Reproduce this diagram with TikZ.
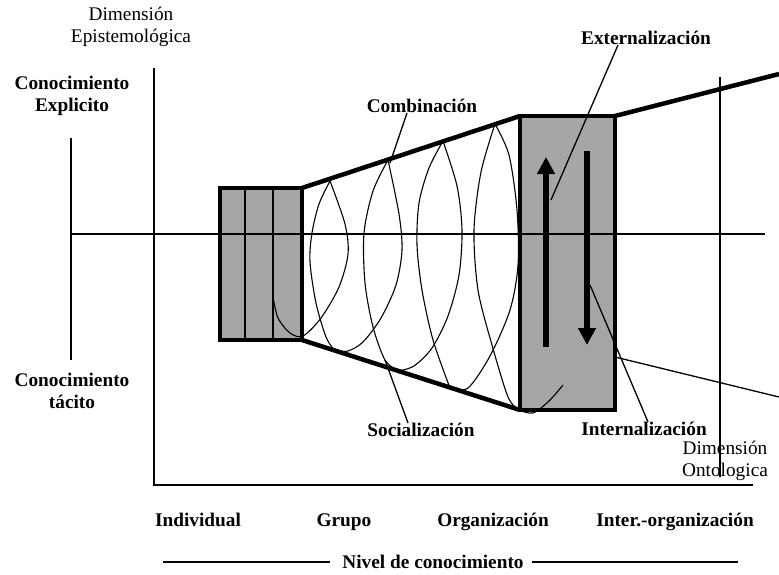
\documentclass[tikz,border=0pt]{standalone}
\usepackage{fontspec}
\setmainfont{Liberation Serif}
\usetikzlibrary{arrows.meta}

\begin{document}
\begin{tikzpicture}[x=1pt,y=-1pt,
    every node/.style={inner sep=0pt,align=center,font=\fontsize{19.3}{22}\selectfont},
    tag/.style={font=\fontsize{19.3}{22}\selectfont\bfseries},
    axis/.style={line width=1.3pt},
    funnel/.style={line width=4.5pt},
    coil/.style={line width=1.1pt},
    flow/.style={line width=6.5pt,-{Triangle[width=17pt,length=17pt]}}]
\useasboundingbox (0,0) rectangle (779,575);
\def\smallbox{(220,188) rectangle (302,340)}
\def\bigbox{(520,116) rectangle (615,410)}
\coordinate (s1) at (302,188);
\coordinate (s2) at (302,340);
\coordinate (b1) at (520,116);
\coordinate (b2) at (520,410);
\coordinate (b3) at (615,116);
\coordinate (b4) at (615,357);
\coordinate (e1) at (779,74);
\coordinate (e2) at (779,397);
\coordinate (t2) at (390,163);
\coordinate (l2) at (385,360);
\coordinate (up) at (551,200);
\coordinate (down) at (590,285);
      \fill[black!35] \smallbox;
      \fill[black!35] \bigbox;
      \draw[axis] (245,188) -- (245,340) (273,188) -- (273,340);
      \draw[coil] plot[smooth] coordinates {(273,297) (278,318) (290,333) (303,336) (321,318) (339,287) (348,254) (345,224) (330,181)};
      \draw[coil] plot[smooth] coordinates {(330,181) (319,204) (312,233) (310,262) (316,303) (326,337) (335,351)};
      \draw[coil] plot[smooth] coordinates {(335,351) (348,351) (363,342) (381,318) (396,285) (402,250) (399,214) (388,160)};
      \draw[coil] plot[smooth] coordinates {(388,160) (373,191) (364,233) (365,283) (373,327) (385,360) (398,371)};
      \draw[coil] plot[smooth] coordinates {(398,371) (414,366) (432,348) (448,316) (459,275) (462,230) (457,186) (443,141)};
      \draw[coil] plot[smooth] coordinates {(443,141) (429,168) (419,203) (417,245) (422,290) (433,340) (450,388)};
      \draw[coil] plot[smooth] coordinates {(450,388) (468,388) (490,356) (510,310) (518,265) (517,210) (509,155) (495,124)};
      \draw[coil] plot[smooth] coordinates {(495,124) (481,172) (474,230) (478,290) (492,345) (508,397) (519,410)};
      \draw[coil] plot[smooth] coordinates {(519,410) (533,413) (549,401) (563,385)};
      \draw[funnel] \smallbox;
      \draw[funnel] \bigbox;
      \draw[funnel] (s1) -- (b1) (s2) -- (b2) (b3) -- (e1);
      \draw[axis] (b4) -- (e2);
      \draw[flow] (546,347) -- (546,157);
      \draw[flow] (587,151) -- (587,345);
      \draw[axis] (70,234) -- (765,234);
      \draw[axis] (71,138) -- (71,360);
      \draw[axis] (154,68) -- (154,485) -- (753,485);
      \node (epi) at (131,27) {Dimensión\\Epistemológica};
      \node[tag] (expl) at (72,96) {Conocimiento\\Explicito};
      \node[tag] (tac) at (72,391) {Conocimiento\\tácito};
      \node[tag] (comb) at (422,106) {Combinación};
      \node[tag] (soc) at (421,430) {Socialización};
      \node[tag] (ext) at (646,38) {Externalización};
      \node[tag] (int) at (644,429) {Internalización};
      \node (ont) at (725,461) {Dimensión\\Ontologica};
      \draw[axis] (720,77) -- (720,477);
      \node[tag,anchor=base] (ind) at (198,526) {Individual};
      \node[tag,anchor=base] (gru) at (344,526) {Grupo};
      \node[tag,anchor=base] (org) at (493,526) {Organización};
      \node[tag,anchor=base] (inter) at (675,526) {Inter.-organización};
      \node[tag] (nivel) at (433,562) {Nivel de conocimiento};
      \draw[axis] (163,562) -- ([xshift=-12pt]nivel.west);
      \draw[axis] ([xshift=8pt]nivel.east) -- (738,562);
      \draw[axis] ([xshift=-15pt]comb.south) -- (t2);
      \draw[axis] ([xshift=-13pt]soc.north) -- (l2);
      \draw[axis] ([xshift=-28pt]ext.south) -- (up);
      \draw[axis] ([xshift=4pt]int.north) -- (down);
\end{tikzpicture}
\end{document}
